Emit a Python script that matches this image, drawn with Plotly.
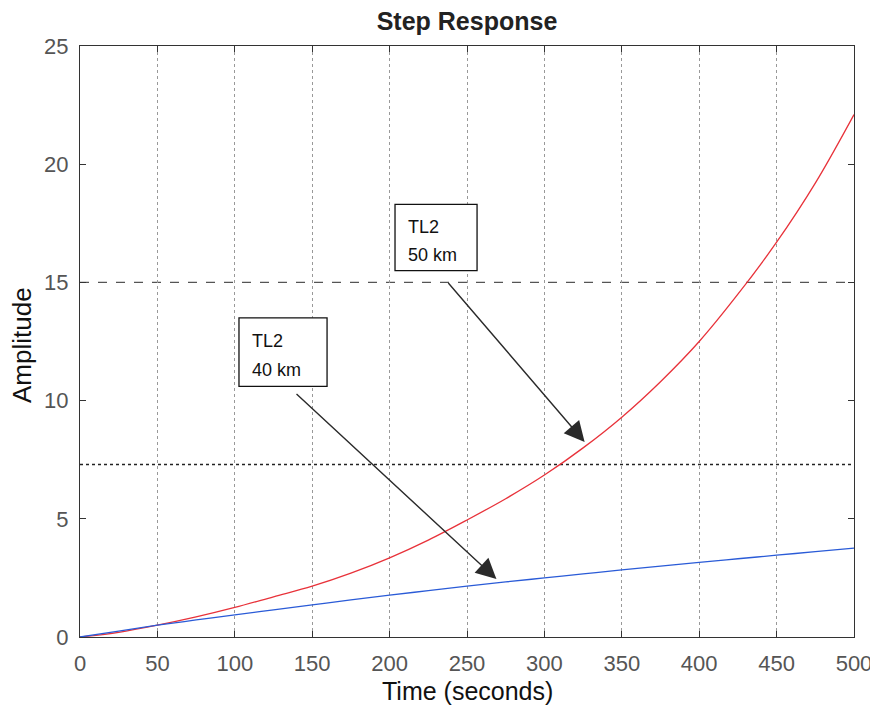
import plotly.graph_objects as go

# Data
time_s = [0, 25, 50, 75, 100, 125, 150, 175, 200, 225, 250, 275, 300,
          325, 350, 375, 400, 425, 450, 475, 500]
tl2_50km = [0, 0.2, 0.5, 0.85, 1.25, 1.7, 2.15, 2.7, 3.35, 4.1, 4.95, 5.85,
            6.85, 8.0, 9.3, 10.8, 12.5, 14.5, 16.7, 19.2, 22.1]
tl2_40km = [0, 0.25, 0.5, 0.72, 0.94, 1.15, 1.36, 1.57, 1.77, 1.96, 2.15,
            2.33, 2.5, 2.67, 2.84, 3.0, 3.16, 3.31, 3.46, 3.61, 3.76]
x_ticks = [0, 50, 100, 150, 200, 250, 300, 350, 400, 450, 500]
y_ticks = [0, 5, 10, 15, 20, 25]
ref_dashed = 15
ref_dotted = 7.3

# Annotation geometry (data units)
box40 = dict(x0=102.7, x1=159.6, y0=10.6, y1=13.5)
box50 = dict(x0=203.5, x1=256.5, y0=15.5, y1=18.3)
arrow40 = dict(tail=(138.9, 10.34), tip=(269.0, 2.45))
arrow50 = dict(tail=(237.1, 15.04), tip=(326.0, 8.25))

FONT = "Liberation Sans, Arial, sans-serif"
OFF = 8                      # page body margin in the browser
W, H = 878 - OFF, 710 - OFF  # figure size so it fits in the window
# target plot area in window pixels: x 80..854, y 46..637
L, T = 80 - OFF, 46 - OFF
R = W - (854 - OFF)
B = H - (637 - OFF)
PW, PH = W - L - R, H - T - B


def px_to_paper(px, py):
    return (px - OFF - L) / PW, (H - B - (py - OFF)) / PH


fig = go.Figure()
fig.add_trace(go.Scatter(x=time_s, y=tl2_50km, mode="lines", line_shape="spline",
                         line=dict(color="#e8323a", width=1.3), name="TL2 50 km"))
fig.add_trace(go.Scatter(x=time_s, y=tl2_40km, mode="lines", line_shape="spline",
                         line=dict(color="#2a5bd7", width=1.3), name="TL2 40 km"))

# Horizontal reference lines
fig.add_shape(type="line", xref="x", yref="y", x0=0, x1=500, y0=ref_dashed, y1=ref_dashed,
              line=dict(color="#555", width=1.2, dash="dash"), layer="below")
fig.add_shape(type="line", xref="x", yref="y", x0=0, x1=500, y0=ref_dotted, y1=ref_dotted,
              line=dict(color="#222", width=1.6, dash="dot"), layer="below")

# Text boxes
for box, lines in ((box40, ("TL2", "40 km")), (box50, ("TL2", "50 km"))):
    fig.add_shape(type="rect", xref="x", yref="y", **box,
                  line=dict(color="#111", width=1.3), fillcolor="white")
    h = box["y1"] - box["y0"]
    fig.add_annotation(x=box["x0"], y=box["y1"] - h * 0.34, xref="x", yref="y",
                       text=lines[0], showarrow=False, xanchor="left", xshift=11,
                       font=dict(family=FONT, size=18, color="#111"))
    fig.add_annotation(x=box["x0"], y=box["y1"] - h * 0.76, xref="x", yref="y",
                       text=lines[1], showarrow=False, xanchor="left", xshift=11,
                       font=dict(family=FONT, size=18, color="#111"))

# Arrows
for arr in (arrow40, arrow50):
    fig.add_annotation(x=arr["tip"][0], y=arr["tip"][1], ax=arr["tail"][0], ay=arr["tail"][1],
                       xref="x", yref="y", axref="x", ayref="y", text="", showarrow=True,
                       arrowhead=2, arrowsize=2.9, arrowwidth=1.4, arrowcolor="#2a2a2a")

# Axis titles
xt = px_to_paper(467, 691)
fig.add_annotation(x=xt[0], y=xt[1], xref="paper", yref="paper",
                   text="Time (seconds)", showarrow=False, xanchor="center", yanchor="middle",
                   font=dict(family=FONT, size=25, color="#111"))
yt = px_to_paper(22, 345)
fig.add_annotation(x=yt[0], y=yt[1], xref="paper", yref="paper",
                   text="Amplitude", showarrow=False, textangle=-90,
                   xanchor="center", yanchor="middle",
                   font=dict(family=FONT, size=26, color="#111"))

axis_common = dict(showline=True, linecolor="#333", linewidth=1.2, mirror="ticks",
                   ticks="inside", ticklen=6, tickcolor="#333", zeroline=False,
                   automargin=False,
                   tickfont=dict(family=FONT, size=22, color="#555"))

fig.update_layout(
    width=W, height=H,
    margin=dict(l=L, r=R, t=T, b=B, autoexpand=False),
    paper_bgcolor="white", plot_bgcolor="white",
    showlegend=False,
    title=dict(text="<b>Step Response</b>", x=(467 - OFF) / W, xanchor="center",
               y=(H - (21 - OFF)) / H, yanchor="middle",
               font=dict(family=FONT, size=25, color="#222")),
    xaxis=dict(range=[0, 500], tickvals=x_ticks, showgrid=True, gridcolor="#999",
               griddash="dot", gridwidth=1, ticklabelstandoff=6, **axis_common),
    yaxis=dict(range=[0, 25], tickvals=y_ticks, showgrid=False, ticklabelstandoff=6,
               **axis_common),
)

fig.write_html("out.html")
